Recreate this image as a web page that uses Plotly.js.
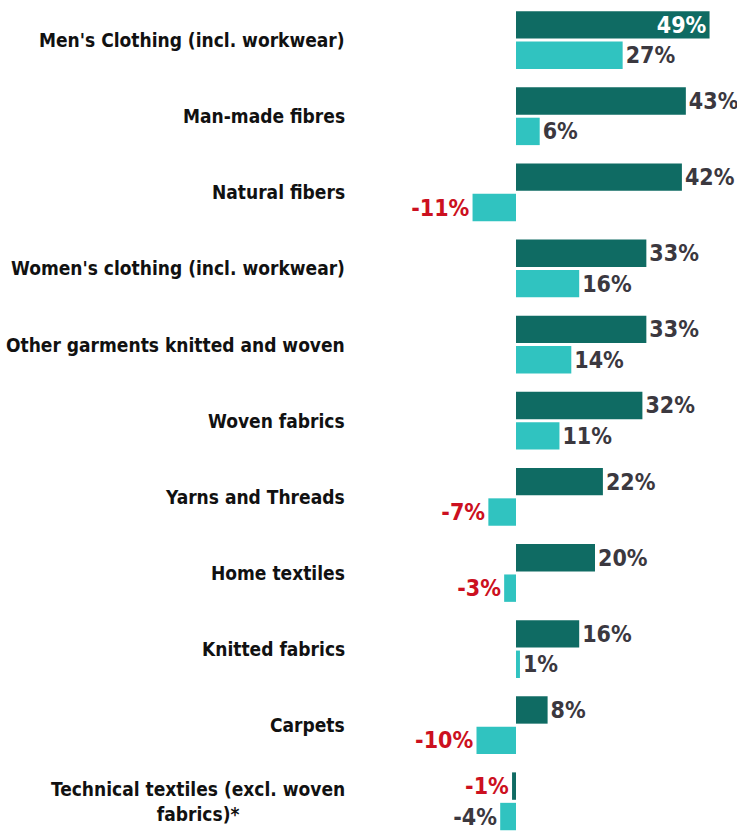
<!DOCTYPE html>
<html>
<head>
<meta charset="utf-8">
<script src="https://cdn.plot.ly/plotly-3.0.1.min.js"></script>
<style>html,body{margin:0;padding:0;background:#fff;}#chart{width:737px;height:831px;}</style>
</head>
<body>
<div id="chart"></div>
<script>
const categories = [
  "Men's Clothing (incl. workwear)",
  "Man-made fibres",
  "Natural fibers",
  "Women's clothing (incl. workwear)",
  "Other garments knitted and woven",
  "Woven fabrics",
  "Yarns and Threads",
  "Home textiles",
  "Knitted fabrics",
  "Carpets",
  "Technical textiles (excl. woven<br>fabrics)*"
];
const seriesDark = [49, 43, 42, 33, 33, 32, 22, 20, 16, 8, -1];
const seriesLight = [27, 6, -11, 16, 14, 11, -7, -3, 1, -10, -4];

const FONT = "'DejaVu Sans Condensed', 'Liberation Sans Narrow', 'Roboto', sans-serif";
const DARK = '#0f6b63', LIGHT = '#30c3c0';
const GRAY = '#3b383f', RED = '#cc1020';

const fmt = v => v + '%';
const darkTextColors = seriesDark.map((v, i) => i === 0 ? '#ffffff' : (v < 0 ? RED : GRAY));
const darkTextPos = seriesDark.map((v, i) => i === 0 ? 'inside' : 'outside');
const lightTextColors = seriesLight.map((v, i) => (v < 0 && i !== seriesLight.length - 1) ? RED : GRAY);

const traces = [
  {
    type: 'bar', orientation: 'h', name: 'A',
    y: categories, x: seriesDark,
    marker: {color: DARK},
    text: seriesDark.map(fmt), textposition: darkTextPos,
    insidetextanchor: 'end',
    textfont: {family: FONT, size: 23, color: darkTextColors, weight: 'bold'},
    constraintext: 'none', cliponaxis: false, hoverinfo: 'none'
  },
  {
    type: 'bar', orientation: 'h', name: 'B',
    y: categories, x: seriesLight,
    marker: {color: LIGHT},
    text: seriesLight.map(fmt), textposition: 'outside',
    textfont: {family: FONT, size: 23, color: lightTextColors, weight: 'bold'},
    constraintext: 'none', cliponaxis: false, hoverinfo: 'none'
  }
];

const annotations = categories.map(c => ({
  xref: 'paper', yref: 'y', x: 0, y: c, xanchor: 'right', yanchor: 'middle',
  xshift: -8, text: '<b>' + c + '</b>', showarrow: false, align: 'center',
  font: {family: FONT, size: 19, color: '#111111'}
}));

const layout = {
  width: 737, height: 831,
  margin: {l: 355, r: 0, t: 2, b: 0, pad: 0},
  paper_bgcolor: '#ffffff', plot_bgcolor: '#ffffff',
  barmode: 'group', bargap: 0.2, bargroupgap: 0.1,
  showlegend: false,
  xaxis: {range: [-40.76, 55.95], showgrid: false, zeroline: false, showticklabels: false, showline: false, fixedrange: true},
  yaxis: {type: 'category', categoryorder: 'array', categoryarray: categories, range: [10.39, -0.5], showgrid: false, zeroline: false, showticklabels: false, showline: false},
  annotations: annotations
};

Plotly.newPlot('chart', traces, layout, {displayModeBar: false, staticPlot: true});
</script>
</body>
</html>
